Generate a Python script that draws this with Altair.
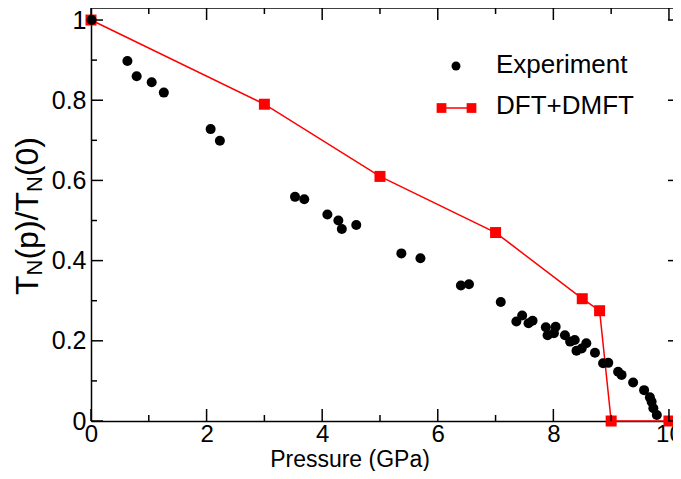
import altair as alt
import pandas as pd

# ---------------- data ----------------
exp_p = [0.01, 0.63, 0.79, 1.05, 1.26, 2.07, 2.23, 3.53, 3.69, 4.09, 4.28, 4.34, 4.59,
         5.37, 5.70, 6.40, 6.54, 7.09, 7.36, 7.46, 7.57, 7.64, 7.87, 7.90, 8.04, 8.01,
         8.20, 8.29, 8.37, 8.40, 8.49, 8.57, 8.72, 8.86, 8.95, 9.12, 9.18, 9.38, 9.57,
         9.67, 9.70, 9.73, 9.79]
exp_v = [1.0, 0.898, 0.860, 0.845, 0.819, 0.728, 0.699, 0.559, 0.553, 0.515, 0.500, 0.479, 0.489,
         0.418, 0.406, 0.338, 0.341, 0.297, 0.248, 0.263, 0.244, 0.250, 0.234, 0.214, 0.235, 0.219,
         0.214, 0.198, 0.202, 0.175, 0.181, 0.194, 0.170, 0.144, 0.145, 0.123, 0.115, 0.096, 0.077,
         0.059, 0.048, 0.032, 0.015]

dft_p = [0, 3, 5, 7, 8.5, 8.8, 9.0, 10]
dft_v = [1.0, 0.79, 0.61, 0.47, 0.305, 0.275, 0.0, 0.0]

x_major = [0, 2, 4, 6, 8, 10]
x_minor = [1, 3, 5, 7, 9]
y_major = [0, 0.2, 0.4, 0.6, 0.8, 1.0]
y_minor = [0.1, 0.3, 0.5, 0.7, 0.9]

legend_labels = ["Experiment", "DFT+DMFT"]
x_title = "Pressure (GPa)"
# y title pieces: (text, is_subscript)
y_title_parts = [("T", False), ("N", True), ("(p)/T", False), ("N", True), ("(0)", False)]

# ---------------- layout ----------------
W, H = 582, 413
FONT = "Liberation Sans"
RED = "#ff0000"
MAJ, MIN = 12, 6

xs = alt.Scale(domain=[0, 10.07], nice=False, zero=False)
ys = alt.Scale(domain=[0, 1.03], nice=False, zero=False)

exp_df = pd.DataFrame({"p": exp_p, "v": exp_v})
dft_df = pd.DataFrame({"p": dft_p, "v": dft_v, "i": list(range(len(dft_p)))})

xaxis = alt.Axis(values=x_major, labelExpr="'' + datum.value", ticks=False, domain=True,
                 domainColor="black", domainWidth=1.5, labelFont=FONT, labelFontSize=24,
                 labelColor="black", labelPadding=1, labelFlush=False, labelOverlap=False,
                 grid=False, title=None)
yaxis = alt.Axis(values=y_major, labelExpr="'' + datum.value", ticks=False, domain=True,
                 domainColor="black", domainWidth=1.5, labelFont=FONT, labelFontSize=25,
                 labelColor="black", labelPadding=5, labelFlush=False, labelOverlap=False,
                 grid=False, title=None)


def X(field):
    return alt.X(field, scale=xs, axis=xaxis)


def Y(field):
    return alt.Y(field, scale=ys, axis=yaxis)


points = alt.Chart(exp_df).mark_circle(size=100, color="black", opacity=1).encode(
    x=X("p:Q"), y=Y("v:Q"))

dft_line = alt.Chart(dft_df).mark_line(color=RED, strokeWidth=1.5).encode(
    x=X("p:Q"), y=Y("v:Q"), order="i:Q")
dft_sq = alt.Chart(dft_df).mark_square(size=121, color=RED, opacity=1).encode(
    x=X("p:Q"), y=Y("v:Q"))


def xticks(vals, length, side):
    y0, y1 = (H, H - length) if side == "bottom" else (0, length)
    return alt.Chart(pd.DataFrame({"t": vals})).mark_rule(color="black", strokeWidth=1.5).encode(
        x=X("t:Q"), y=alt.value(y0), y2=alt.value(y1))


def yticks(vals, length, side):
    x0, x1 = (0, length) if side == "left" else (W, W - length)
    return alt.Chart(pd.DataFrame({"t": vals})).mark_rule(color="black", strokeWidth=1.5).encode(
        y=Y("t:Q"), x=alt.value(x0), x2=alt.value(x1))


tick_layers = [
    xticks(x_major, MAJ, "bottom"), xticks(x_minor, MIN, "bottom"),
    xticks(x_major, MAJ, "top"), xticks(x_minor, MIN, "top"),
    yticks(y_major, MAJ, "left"), yticks(y_minor, MIN, "left"),
    yticks(y_major, 5, "right"),
]

top_frame = alt.Chart(pd.DataFrame({"a": [0]})).mark_rule(color="black", strokeWidth=1.5).encode(
    x=alt.value(0), x2=alt.value(W), y=alt.value(0))

# ---------------- legend ----------------
leg_text = alt.Chart(pd.DataFrame({"label": legend_labels, "yy": [65, 106]})).mark_text(
    font=FONT, fontSize=26, color="black", align="left", baseline="alphabetic").encode(
    text="label:N", x=alt.value(405), y=alt.Y("yy:Q", scale=None))
leg_dot = alt.Chart(pd.DataFrame({"a": [0]})).mark_circle(size=80, color="black", opacity=1).encode(
    x=alt.value(365), y=alt.value(58))
leg_line = alt.Chart(pd.DataFrame({"a": [0]})).mark_rule(color=RED, strokeWidth=1.5).encode(
    x=alt.value(350), x2=alt.value(380), y=alt.value(100))
leg_sq = alt.Chart(pd.DataFrame({"xx": [350.5, 380.5]})).mark_square(size=95, color=RED, opacity=1).encode(
    x=alt.X("xx:Q", scale=None), y=alt.value(100))

# ---------------- axis titles ----------------
xt = alt.Chart(pd.DataFrame({"t": [x_title]})).mark_text(
    font=FONT, fontSize=23, color="black", align="center", baseline="alphabetic").encode(
    text="t:N", x=alt.value(259), y=alt.value(459))

# y title built from segments (rotated, subscripts smaller and shifted)
char_w = {"T": .611, "N": .722, "(": .333, ")": .333, "p": .556, "/": .278, "0": .556}
BIG, SMALL = 32, 22
base_x, start_y = -53, 287
rows = []
cur = start_y
for txt, sub in y_title_parts:
    fs = SMALL if sub else BIG
    rows.append({"s": txt, "xx": base_x + (4 if sub else 0), "yy": cur, "fs": fs})
    cur -= sum(char_w[c] for c in txt) * fs
yt = alt.Chart(pd.DataFrame(rows)).mark_text(
    font=FONT, color="black", align="left", baseline="alphabetic", angle=270).encode(
    text="s:N", x=alt.X("xx:Q", scale=None), y=alt.Y("yy:Q", scale=None),
    size=alt.Size("fs:Q", scale=None, legend=None))

chart = alt.layer(
    dft_line, dft_sq, points, *tick_layers, top_frame,
    leg_dot, leg_line, leg_sq, leg_text, xt, yt,
).properties(
    width=W, height=H,
    autosize=alt.AutoSizeParams(type="none"),
    padding={"left": 83, "top": 0, "right": 0, "bottom": 50},
).configure_view(stroke=None)

chart.save("out.html", embed_options={"renderer": "svg", "actions": False})
